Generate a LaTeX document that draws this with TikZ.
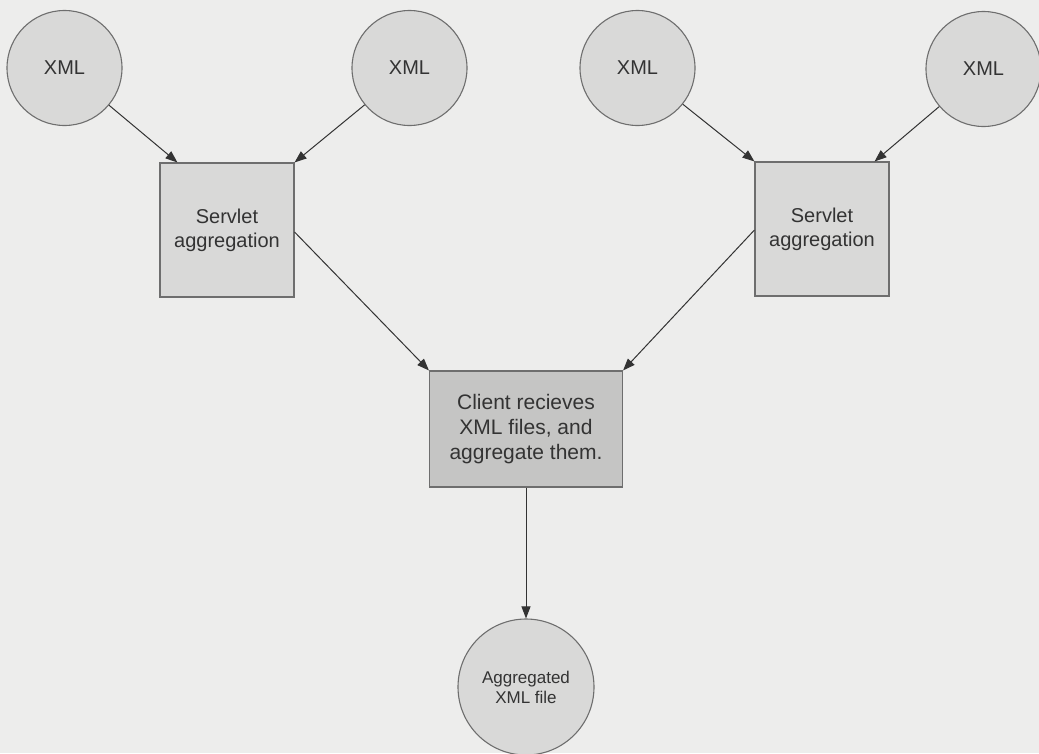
\documentclass[tikz,border=0pt]{standalone}
\usepackage{fontspec}
\setmainfont{Liberation Sans}
\usetikzlibrary{arrows.meta}
\definecolor{paper}{HTML}{EDEDEC}
\definecolor{nodefill}{HTML}{D9D9D8}
\definecolor{clientfill}{HTML}{C5C5C4}
\definecolor{edgecol}{HTML}{6E6E6E}
\definecolor{inkcol}{HTML}{333333}
\tikzset{
  source/.style={circle, draw=edgecol, fill=nodefill, line width=1.1pt,
    minimum size=115pt, inner sep=0pt, text=inkcol, font=\fontsize{20}{24}\selectfont},
  servlet/.style={rectangle, draw=edgecol, fill=nodefill, line width=1.1pt,
    minimum width=134pt, minimum height=134pt, inner sep=0pt, text=inkcol,
    align=center, font=\fontsize{20}{24}\selectfont},
  client/.style={rectangle, draw=edgecol, fill=clientfill, line width=1.1pt,
    minimum width=193pt, minimum height=116pt, inner sep=0pt, text=inkcol,
    align=center, font=\fontsize{21}{25}\selectfont},
  result/.style={circle, draw=edgecol, fill=nodefill, line width=1.1pt,
    minimum size=136pt, inner sep=0pt, text=inkcol, align=center,
    font=\fontsize{17}{20}\selectfont},
  flow/.style={draw=inkcol, line width=1pt, -{Triangle[length=12pt,width=9pt]}}
}
\begin{document}
\begin{tikzpicture}[x=1pt,y=-1pt]
  \fill[paper] (0,0) rectangle (1039,753);
  \useasboundingbox (0,0) rectangle (1039,753);

  % XML sources
  \node[source] (x1) at (64.5,68) {XML};
  \node[source] (x2) at (409.5,68) {XML};
  \node[source] (x3) at (637.5,68) {XML};
  \node[source] (x4) at (983.5,69) {XML};

  % servlet aggregation boxes
  \node[servlet] (s1) at (227,230) {Servlet\\aggregation};
  \node[servlet] (s2) at (822,229) {Servlet\\aggregation};

  % client and result
  \node[client] (c) at (526,429) {Client recieves\\XML files, and\\aggregate them.};
  \node[result] (r) at (526,687) {Aggregated\\XML file};

  % arrow end points on the boxes
  \coordinate (s1a) at ([xshift=18pt]s1.north west);
  \coordinate (s1b) at (s1.north east);
  \coordinate (s2a) at (s2.north west);
  \coordinate (s2b) at ([xshift=-15pt]s2.north east);
  \coordinate (s1o) at ([yshift=-2pt]s1.east);
  \coordinate (s2o) at ([yshift=-1pt]s2.west);

  \draw[flow] (x1) -- (s1a);
  \draw[flow] (x2) -- (s1b);
  \draw[flow] (x3) -- (s2a);
  \draw[flow] (x4) -- (s2b);
  \draw[flow] (s1o) -- (c.north west);
  \draw[flow] (s2o) -- (c.north east);
  \draw[flow] (c.south) -- (r.north);
\end{tikzpicture}
\end{document}
